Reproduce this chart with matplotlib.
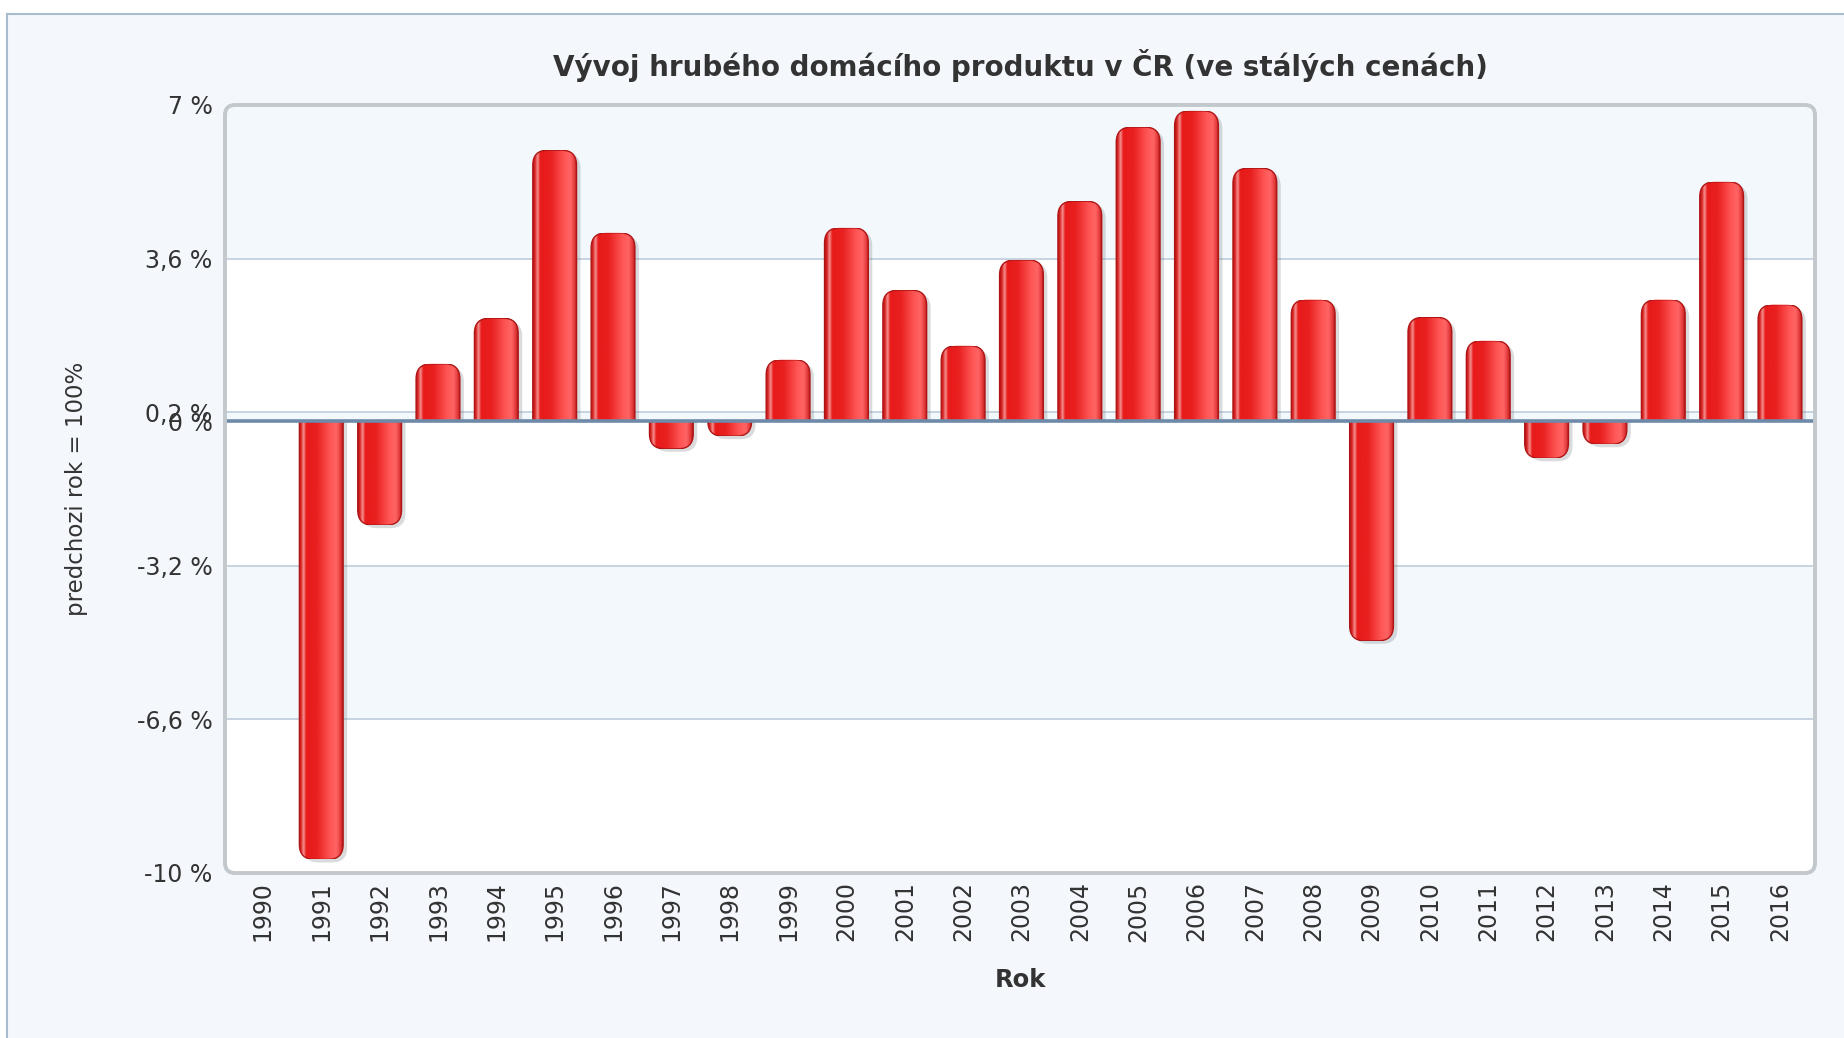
import matplotlib
matplotlib.use("Agg")
import matplotlib.pyplot as plt
import matplotlib.transforms as mtransforms
from matplotlib.patches import FancyBboxPatch, Rectangle
from matplotlib.colors import LinearSegmentedColormap
from matplotlib.lines import Line2D
import numpy as np

# data
years = [str(y) for y in range(1990, 2017)]
gdp_change = [np.nan, -9.7, -2.3, 1.27, 2.28, 6.0, 4.17, -0.61, -0.33, 1.36,
              4.28, 2.9, 1.67, 3.57, 4.87, 6.51, 6.87, 5.6, 2.69, -4.86,
              2.3, 1.78, -0.82, -0.51, 2.69, 5.3, 2.58]
y_ticks = [7, 3.6, 0.2, 0, -3.2, -6.6, -10]
y_tick_labels = ["7 %", "3,6 %", "0,2 %", "0 %", "-3,2 %", "-6,6 %", "-10 %"]

title = "Vývoj hrubého domácího produktu v ČR (ve stálých cenách)"
x_label = "Rok"
y_label = "predchozi rok = 100%"

BG = "#f4f8fc"
BAND = "#f3f8fd"
TEXT = "#333333"

W, H = 1844, 1038
fig = plt.figure(figsize=(W / 100, H / 100), dpi=100, facecolor="white")

# page panel with thin border on top/left
fig.add_artist(Rectangle((7 / W, 0), 1, 1 - 14 / H, transform=fig.transFigure,
                         facecolor=BG, edgecolor="none", zorder=-10))
fig.add_artist(Line2D([7 / W, 1], [1 - 14 / H, 1 - 14 / H], transform=fig.transFigure,
                      color="#a9bccf", lw=1.5))
fig.add_artist(Line2D([7 / W, 7 / W], [0, 1 - 14 / H], transform=fig.transFigure,
                      color="#a9bccf", lw=1.5))

ax_l, ax_r, ax_t, ax_b = 225, 1815, 105, 873
ax = fig.add_axes([ax_l / W, 1 - ax_b / H, (ax_r - ax_l) / W, (ax_b - ax_t) / H])
ax.set_facecolor("none")
for s in ax.spines.values():
    s.set_visible(False)

n = len(years)
x = np.arange(n)
x_lo, x_hi = -0.65, n - 0.4
ax.set_xlim(x_lo, x_hi)
ax.set_ylim(min(y_ticks), max(y_ticks))

# rounded plot frame
ax_w_px = ax_r - ax_l
ax_h_px = ax_b - ax_t
frame = FancyBboxPatch((0, 0), 1, 1, transform=ax.transAxes,
                       boxstyle="round,pad=0,rounding_size=%f" % (10 / ax_w_px),
                       mutation_aspect=ax_w_px / ax_h_px,
                       facecolor="white", edgecolor="none", zorder=0)
ax.add_patch(frame)
frame_edge = FancyBboxPatch((0, 0), 1, 1, transform=ax.transAxes,
                            boxstyle="round,pad=0,rounding_size=%f" % (10 / ax_w_px),
                            mutation_aspect=ax_w_px / ax_h_px,
                            facecolor="none", edgecolor="#c3c8cd", lw=2.8,
                            zorder=7, clip_on=False)
ax.add_patch(frame_edge)

# alternating bands between ticks
ticks_sorted = sorted(y_ticks, reverse=True)
for i in range(len(ticks_sorted) - 1):
    hi, lo = ticks_sorted[i], ticks_sorted[i + 1]
    band = ax.axhspan(lo, hi, color=BAND if i % 2 == 0 else "white", lw=0, zorder=0.5)
    band.set_clip_path(frame)

for t in y_ticks:
    if t in (0, max(y_ticks), min(y_ticks)):
        continue
    ax.axhline(t, color="#c3d1de", lw=1.3, zorder=1)

# bars: cylinder gradient with rounded ends
bar_cmap = LinearSegmentedColormap.from_list("cyl", [
    (0.0, "#b81414"), (0.05, "#e02a2a"), (0.10, "#f59a9a"), (0.16, "#e81a1a"),
    (0.40, "#e8201f"), (0.72, "#ff5656"), (0.86, "#ff6464"), (0.95, "#e43a3a"),
    (1.0, "#b51a1a")])
grad = np.linspace(0, 1, 128)[None, :]

bar_w = 0.75
px_x = ax_w_px / (x_hi - x_lo)
px_y = ax_h_px / (max(y_ticks) - min(y_ticks))
r_px = 15
rx = r_px / px_x
ry = r_px / px_y
shadow_tr = mtransforms.offset_copy(ax.transData, fig=fig, x=4, y=-3, units="dots")

for xi, v in zip(x, gdp_change):
    if np.isnan(v):
        continue
    s = 1 if v > 0 else -1
    left = xi - bar_w / 2
    y0 = -s * ry
    lo, hi = min(y0, v), max(y0, v)
    style = "round,pad=0,rounding_size=%f" % rx

    clip = Rectangle((left - 1, min(0, v + s * ry)), bar_w + 2, abs(v) + ry,
                     transform=ax.transData)
    shadow = FancyBboxPatch((left, lo), bar_w, hi - lo, boxstyle=style,
                            mutation_aspect=ry / rx, transform=shadow_tr,
                            facecolor="#7a7f86", edgecolor="none", alpha=0.28, zorder=2)
    ax.add_patch(shadow)
    shadow.set_clip_path(clip)

    body = FancyBboxPatch((left, lo), bar_w, hi - lo, boxstyle=style,
                          mutation_aspect=ry / rx, transform=ax.transData,
                          facecolor="none", edgecolor="none", zorder=3)
    ax.add_patch(body)
    im = ax.imshow(grad, cmap=bar_cmap, aspect="auto", interpolation="bicubic",
                   extent=(left, left + bar_w, min(0, v), max(0, v)), zorder=3)
    im.set_clip_path(body)

    edge = FancyBboxPatch((left, lo), bar_w, hi - lo, boxstyle=style,
                          mutation_aspect=ry / rx, transform=ax.transData,
                          facecolor="none", edgecolor="#b01515", lw=1.0, zorder=4)
    ax.add_patch(edge)
    edge.set_clip_path(Rectangle((left - 1, min(0, v)), bar_w + 2, abs(v),
                                 transform=ax.transData))

ax.axhline(0, color="#6e8aa8", lw=2.6, zorder=6)

ax.set_xlim(x_lo, x_hi)
ax.set_ylim(min(y_ticks), max(y_ticks))

ax.set_xticks(x)
ax.set_xticklabels(years, rotation=90, fontsize=17, color=TEXT)
ax.set_yticks(y_ticks)
ax.set_yticklabels(y_tick_labels, fontsize=17, color=TEXT)
ax.tick_params(length=0)
ax.tick_params(axis="x", pad=6)
ax.tick_params(axis="y", pad=9)

fig.text((ax_l + ax_r) / 2 / W, 1 - 65 / H, title, ha="center", va="center",
         fontsize=20, fontweight="bold", color=TEXT)
fig.text((ax_l + ax_r) / 2 / W, 1 - 980 / H, x_label, ha="center", va="center",
         fontsize=17.5, fontweight="bold", color=TEXT)
fig.text(77 / W, 1 - (ax_t + ax_b) / 2 / H, y_label, ha="center", va="center",
         rotation=90, fontsize=16.5, color=TEXT)

fig.savefig("out.png", dpi=100, facecolor=fig.get_facecolor())
